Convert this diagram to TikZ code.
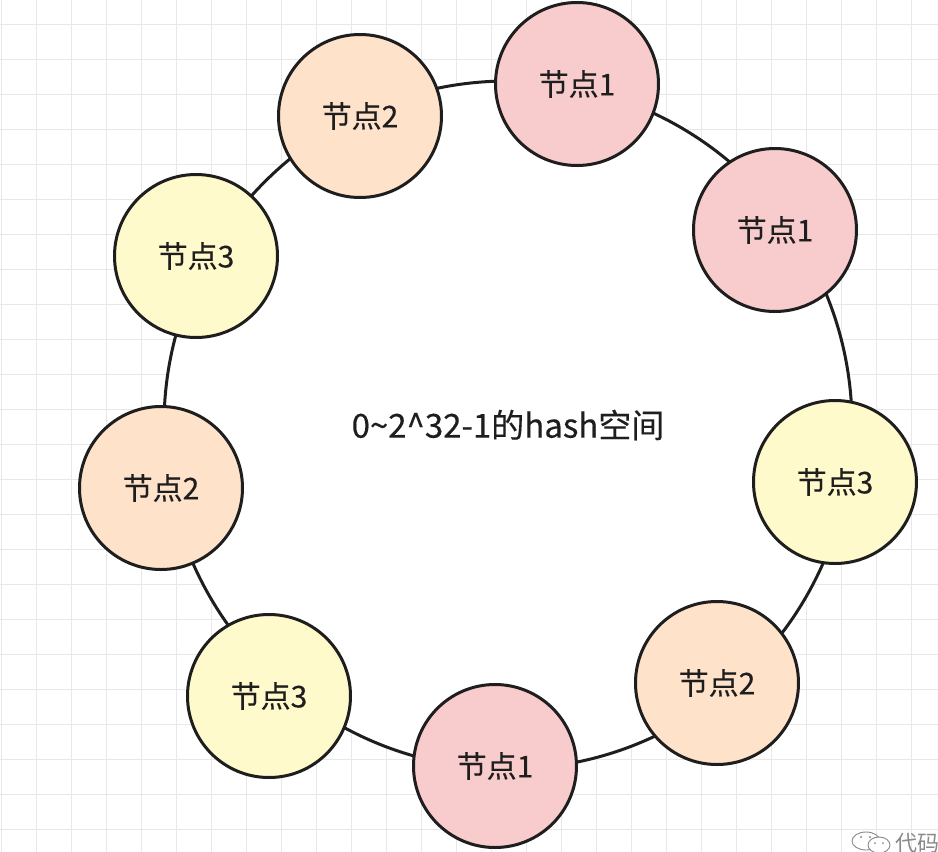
\documentclass[tikz,border=0pt]{standalone}
\usepackage{fontspec}
\setmainfont{Noto Sans CJK SC}
\newfontfamily\cjk[FakeBold=0.35]{Noto Sans CJK SC}
\newfontfamily\cjkmark{Noto Sans CJK SC}
\begin{document}
\begin{tikzpicture}[x=1pt,y=-1pt]
\definecolor{pinkfill}{HTML}{F8CBCC}
\definecolor{peachfill}{HTML}{FFE2CA}
\definecolor{yellowfill}{HTML}{FFFACB}
\definecolor{strokec}{HTML}{1E1E1E}
\definecolor{gridc}{HTML}{E8E8E8}
\definecolor{markc}{HTML}{8A8A8A}
\tikzset{
  gridline/.style={draw=gridc, line width=1pt},
  ringbox/.style={circle, draw=strokec, line width=3pt, fill=white, minimum size=688pt, inner sep=0pt, font=\cjk\fontsize{33}{33}\selectfont, text=strokec},
  hashnode/.style={circle, draw=strokec, line width=3pt, minimum size=163pt, inner sep=0pt, font=\cjk\fontsize{30}{30}\selectfont, text=strokec},
  nodeA/.style={hashnode, fill=pinkfill},
  nodeB/.style={hashnode, fill=peachfill},
  nodeC/.style={hashnode, fill=yellowfill},
  markline/.style={draw=markc, line width=0.9pt},
}
\useasboundingbox (0,0) rectangle (938,852);
\fill[white] (0,0) rectangle (938,852);
\begin{scope}
\clip (0,0) rectangle (938,852);
% grid
\foreach \i in {0,...,26} \draw[gridline] (1+35*\i,0) -- (1+35*\i,852);
\foreach \j in {0,...,23} \draw[gridline] (0,24+35*\j) -- (938,24+35*\j);
% ring
\node[ringbox] (ring) at (508,425) {0\textasciitilde 2\textasciicircum 32-1的hash空间};
% nodes
\node[nodeA] (n1a) at (577,84) {节点1};
\node[nodeB] (n2a) at (360,116) {节点2};
\node[nodeA] (n1b) at (775,230) {节点1};
\node[nodeC] (n3a) at (196,256) {节点3};
\node[nodeB] (n2b) at (161,488) {节点2};
\node[nodeC] (n3b) at (835,482) {节点3};
\node[nodeC] (n3c) at (269,696) {节点3};
\node[nodeB] (n2c) at (717,683) {节点2};
\node[nodeA] (n1c) at (495,766) {节点1};
% watermark
\draw[markline] (866,841) ellipse [x radius=14pt, y radius=9pt];
\fill[white] (879,845) ellipse [x radius=11pt, y radius=8pt];
\draw[markline] (879,845) ellipse [x radius=11pt, y radius=8pt];
\fill[markc] (861,837) circle (1.2pt) (870,837) circle (1.2pt);
\fill[markc] (875,843) circle (1pt) (883,843) circle (1pt);
\node[anchor=west, text=markc, font=\cjkmark\fontsize{22}{22}\selectfont, inner sep=0pt] (wm) at (895,843) {代码};
\end{scope}
\end{tikzpicture}
\end{document}
